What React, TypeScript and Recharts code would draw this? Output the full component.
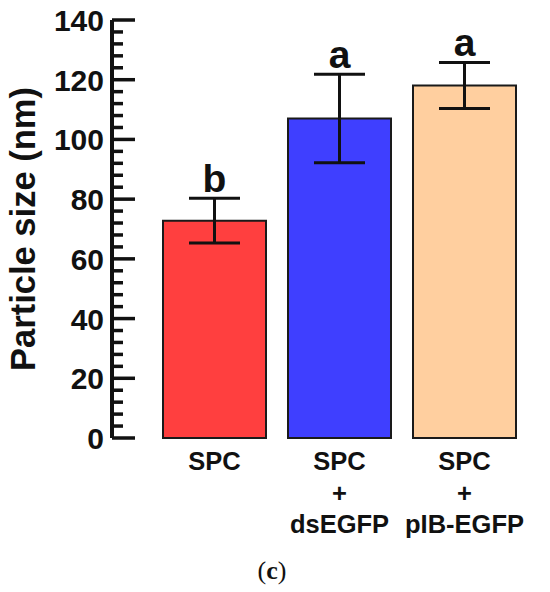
import React from "react";
import { BarChart, Bar, Cell, XAxis, YAxis, ErrorBar, LabelList } from "recharts";

const GROUPS = ["SPC", "SPC + dsEGFP", "SPC + pIB-EGFP"];
const GROUP_LINES = [["SPC"], ["SPC", "+", "dsEGFP"], ["SPC", "+", "pIB-EGFP"]];
const MEAN_SIZE = [72.8, 107, 118.1];
const SD_SIZE = [7.5, 14.8, 7.7];
const LETTERS = ["b", "a", "a"];
const BAR_COLORS = ["#ff3f3f", "#3f3fff", "#ffcf9f"];
const Y_MAJOR_TICKS = [0, 20, 40, 60, 80, 100, 120, 140];
const Y_MINOR_STEP = 4;

const FONT = '"Liberation Sans", Arial, sans-serif';
const INK = "#111";

const data = GROUPS.map((g, i) => ({
  group: g,
  size: MEAN_SIZE[i],
  sd: SD_SIZE[i],
  letter: LETTERS[i],
}));

// every 4 nm gets a small tick, every 20 nm a long one with a label
const yTicks: number[] = [];
for (let v = 0; v <= 140; v += Y_MINOR_STEP) yTicks.push(v);

function YTick(props: any) {
  const { x, y, payload } = props;
  const major = Y_MAJOR_TICKS.includes(payload.value);
  return (
    <g>
      <line x1={x} y1={y} x2={x + (major ? 23 : 11)} y2={y} stroke={INK} strokeWidth={3.5} />
      {major && (
        <text
          x={x - 8}
          y={y}
          dy={11}
          textAnchor="end"
          fontFamily={FONT}
          fontWeight="bold"
          fontSize={30}
          fill={INK}
        >
          {payload.value}
        </text>
      )}
    </g>
  );
}

function XTick(props: any) {
  const { x, y, index } = props;
  const lines = GROUP_LINES[index] || [];
  return (
    <text
      x={x}
      y={y + 32}
      textAnchor="middle"
      fontFamily={FONT}
      fontWeight="bold"
      fontSize={25.5}
      fill={INK}
    >
      {lines.map((l, i) => (
        <tspan key={i} x={x} dy={i === 0 ? 0 : 31.5}>
          {l}
        </tspan>
      ))}
    </text>
  );
}

function LetterLabel(props: any) {
  const { x, y, width, height, value, index } = props;
  const perUnit = height / value;
  const top = y - SD_SIZE[index] * perUnit;
  return (
    <text
      x={x + width / 2}
      y={top - 6}
      textAnchor="middle"
      fontFamily={FONT}
      fontWeight="bold"
      fontSize={39}
      fill={INK}
    >
      {LETTERS[index]}
    </text>
  );
}

export default function App() {
  return (
    <div style={{ position: "absolute", left: 0, top: 0, width: 550, height: 592, background: "#fff" }}>
      <BarChart
        width={550}
        height={550}
        data={data}
        margin={{ top: 20, right: 23, left: 0, bottom: 0 }}
      >
        <XAxis
          dataKey="group"
          axisLine={false}
          tickLine={false}
          tickSize={0}
          tickMargin={0}
          height={112}
          padding={{ left: 40, right: 0 }}
          interval={0}
          tick={<XTick />}
        />
        <YAxis
          domain={[0, 140]}
          ticks={yTicks}
          interval={0}
          width={112}
          tickSize={0}
          tickMargin={0}
          tickLine={false}
          axisLine={{ stroke: INK, strokeWidth: 4 }}
          tick={<YTick />}
          label={() => (
            <text
              x={35}
              y={229}
              transform="rotate(-90 35 229)"
              textAnchor="middle"
              fontFamily={FONT}
              fontWeight="bold"
              fontSize={34.5}
              fill={INK}
            >
              Particle size (nm)
            </text>
          )}
        />
        <Bar dataKey="size" barSize={103} stroke="#1a1a1a" strokeWidth={2} isAnimationActive={false}>
          {data.map((_, i) => (
            <Cell key={i} fill={BAR_COLORS[i]} />
          ))}
          <ErrorBar dataKey="sd" width={25.5} stroke={INK} strokeWidth={3} isAnimationActive={false} />
          <LabelList dataKey="size" content={<LetterLabel />} />
        </Bar>
      </BarChart>
      <div
        style={{
          position: "absolute",
          left: 0,
          top: 556,
          width: 544,
          textAlign: "center",
          fontFamily: '"Liberation Serif", "Times New Roman", serif',
          fontSize: 26,
          lineHeight: "30px",
          color: INK,
        }}
      >
        (<b>c</b>)
      </div>
    </div>
  );
}
